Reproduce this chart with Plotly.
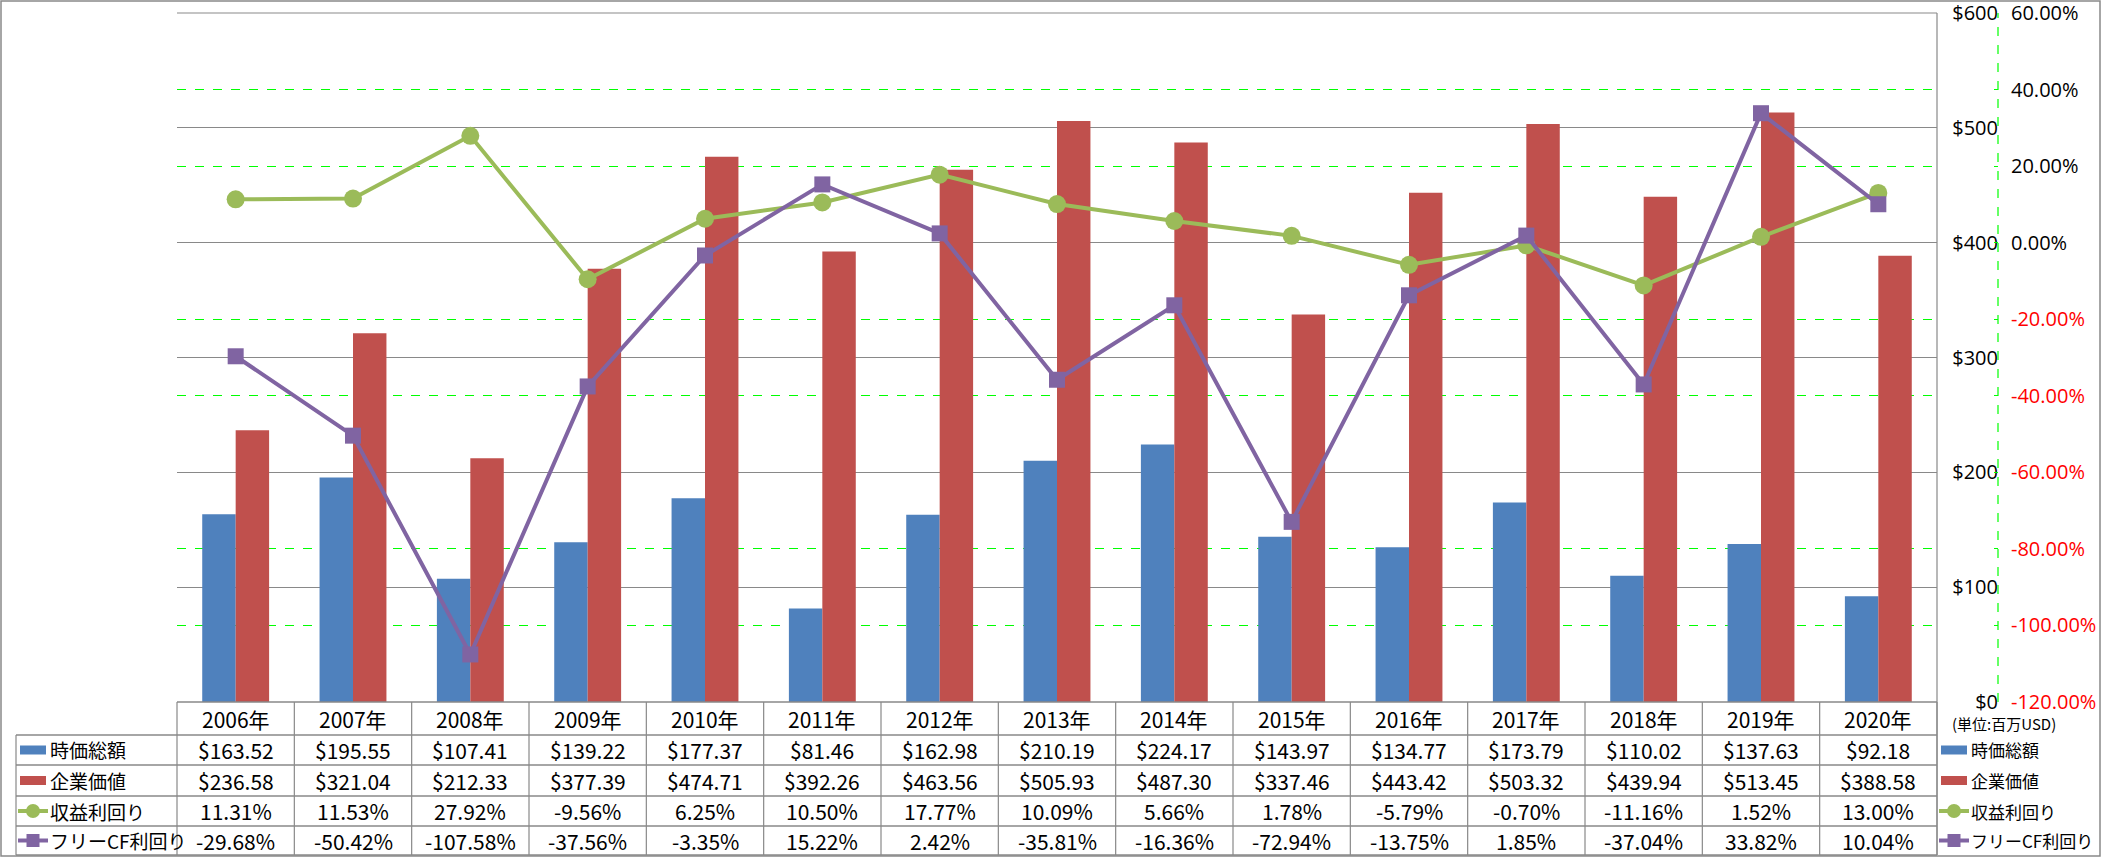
import plotly.graph_objects as go

W, H = 2101, 858
L, R, T, B = 177, 1937, 13, 702       # plot area in pixels
AX = 1998                              # x of the shared right axis line

years = ["2006年", "2007年", "2008年", "2009年", "2010年", "2011年", "2012年", "2013年",
         "2014年", "2015年", "2016年", "2017年", "2018年", "2019年", "2020年"]
market_cap = [163.52, 195.55, 107.41, 139.22, 177.37, 81.46, 162.98, 210.19,
              224.17, 143.97, 134.77, 173.79, 110.02, 137.63, 92.18]
enterprise_value = [236.58, 321.04, 212.33, 377.39, 474.71, 392.26, 463.56, 505.93,
                    487.30, 337.46, 443.42, 503.32, 439.94, 513.45, 388.58]
earnings_yield = [11.31, 11.53, 27.92, -9.56, 6.25, 10.50, 17.77, 10.09,
                  5.66, 1.78, -5.79, -0.70, -11.16, 1.52, 13.00]
fcf_yield = [-29.68, -50.42, -107.58, -37.56, -3.35, 15.22, 2.42, -35.81,
             -16.36, -72.94, -13.75, 1.85, -37.04, 33.82, 10.04]
series_names = ["時価総額", "企業価値", "収益利回り", "フリーCF利回り"]
usd_ticks = [0, 100, 200, 300, 400, 500, 600]
pct_ticks = [-120, -100, -80, -60, -40, -20, 0, 20, 40, 60]

BLUE, RED, GREEN, PURPLE = "#4F81BD", "#C0504D", "#9BBB59", "#8064A2"
GRID = "#898989"
JP = "Noto Sans CJK JP, Noto Sans, sans-serif"
NARROW = "Liberation Sans Narrow, Noto Sans CJK JP, sans-serif"
AXFONT = "Open Sans, Noto Sans, sans-serif"

PW = W - L          # paper width (right margin 0)
PH = B - T


def px(x):
    return (x - L) / PW


def py(y):
    return (B - y) / PH


fig = go.Figure()
fig.add_trace(go.Bar(name=series_names[0], x=years, y=market_cap,
                     marker=dict(color=BLUE, line=dict(width=0))))
fig.add_trace(go.Bar(name=series_names[1], x=years, y=enterprise_value,
                     marker=dict(color=RED, line=dict(width=0))))
fig.add_trace(go.Scatter(name=series_names[2], x=years, y=earnings_yield, yaxis="y2",
                         mode="lines+markers", line=dict(color=GREEN, width=4),
                         marker=dict(symbol="circle", size=18, color=GREEN)))
fig.add_trace(go.Scatter(name=series_names[3], x=years, y=fcf_yield, yaxis="y2",
                         mode="lines+markers", line=dict(color=PURPLE, width=4),
                         marker=dict(symbol="square", size=16, color=PURPLE)))


def pct_label(v):
    s = f"{v:.2f}%"
    return f"<span style='color:#FF0000'>{s}</span>" if v < 0 else s


fig.update_layout(
    width=W, height=H,
    margin=dict(l=L, r=0, t=T, b=H - B),
    paper_bgcolor="white", plot_bgcolor="white",
    showlegend=False,
    barmode="group", bargap=0.43, bargroupgap=0,
    font=dict(family=JP, size=16, color="#000000"),
    xaxis=dict(type="category", domain=[0, (R - L) / PW], range=[-0.5, len(years) - 0.5],
               showticklabels=False, showgrid=False, zeroline=False, showline=False, ticks=""),
    yaxis=dict(range=[0, 600], side="left", anchor="free", position=px(AX),
               tickvals=usd_ticks, ticktext=[f"${v}" for v in usd_ticks],
               showgrid=True, gridcolor=GRID, gridwidth=1.2, zeroline=False,
               showline=False, ticks="", ticklen=0, ticklabelstandoff=0,
               ticklabeloverflow="allow",
               tickfont=dict(family=AXFONT, size=20)),
    yaxis2=dict(range=[-120, 60], overlaying="y", side="right", anchor="free",
                position=px(AX), tickvals=pct_ticks,
                ticktext=[pct_label(v) for v in pct_ticks],
                showgrid=False, zeroline=False, showline=False,
                ticks="inside", ticklen=4, tickcolor="#00FF00", tickwidth=1,
                ticklabelstandoff=12, ticklabeloverflow="allow",
                minor=dict(tickvals=[v for v in pct_ticks if v % 60 != 0],
                           showgrid=True, gridcolor="#00FF00", griddash="dash",
                           gridwidth=1.2, ticks=""),
                tickfont=dict(family=AXFONT, size=20)),
)

shapes = []


def hline(x0, x1, y, w=1.5):
    shapes.append(dict(type="line", xref="paper", yref="paper", x0=px(x0), x1=px(x1),
                       y0=py(y), y1=py(y), line=dict(color=GRID, width=w)))


def vline(x, y0, y1, w=1.2):
    shapes.append(dict(type="line", xref="paper", yref="paper", x0=px(x), x1=px(x),
                       y0=py(y0), y1=py(y1), line=dict(color=GRID, width=w)))


# outer chart border
shapes.append(dict(type="rect", xref="paper", yref="paper", x0=px(1), x1=px(W - 1),
                   y0=py(1), y1=py(H - 2), line=dict(color=GRID, width=1.5)))
# dashed secondary axis line
shapes.append(dict(type="line", xref="paper", yref="paper", x0=px(AX), x1=px(AX),
                   y0=0, y1=1, line=dict(color="#00FF00", width=1.2, dash="dash")))
# top gridline of the value axis
hline(L, R, T, 1.2)

# data table grid
row_edges = [702, 735, 765, 796, 826, 855]
hline(L, R, row_edges[0])
for y in row_edges[1:]:
    hline(16, R, y)
vline(16, row_edges[1], row_edges[-1])
col_w = (R - L) / len(years)
for i in range(len(years) + 1):
    vline(L + i * col_w, row_edges[0], row_edges[-1])
vline(R, T, row_edges[-1])

annotations = []
centers = [(row_edges[i] + row_edges[i + 1]) / 2 for i in range(5)]
table_rows = [
    years,
    [f"${v:.2f}" for v in market_cap],
    [f"${v:.2f}" for v in enterprise_value],
    [f"{v:.2f}%" for v in earnings_yield],
    [f"{v:.2f}%" for v in fcf_yield],
]
for r, row in enumerate(table_rows):
    for i, txt in enumerate(row):
        annotations.append(dict(x=years[i], xref="x", y=py(centers[r]), yref="paper",
                                text=txt, showarrow=False, xanchor="center", yanchor="middle",
                                font=dict(family=NARROW, size=21)))


def legend_key(kind, color, x0, yc):
    if kind == "bar":
        shapes.append(dict(type="rect", xref="paper", yref="paper", x0=px(x0), x1=px(x0 + 26),
                           y0=py(yc + 4.5), y1=py(yc - 4.5), fillcolor=color,
                           line=dict(width=0)))
    else:
        shapes.append(dict(type="line", xref="paper", yref="paper", x0=px(x0 - 2), x1=px(x0 + 28),
                           y0=py(yc), y1=py(yc), line=dict(color=color, width=4)))
        s = 7 if kind == "circle" else 6.5
        shapes.append(dict(type="circle" if kind == "circle" else "rect",
                           xref="paper", yref="paper",
                           x0=px(x0 + 13 - s), x1=px(x0 + 13 + s),
                           y0=py(yc + s), y1=py(yc - s), fillcolor=color,
                           line=dict(width=0)))


kinds = [("bar", BLUE), ("bar", RED), ("circle", GREEN), ("square", PURPLE)]
for k, ((kind, color), name) in enumerate(zip(kinds, series_names)):
    yc = centers[k + 1]
    legend_key(kind, color, 20, yc)
    annotations.append(dict(x=px(48), xref="paper", y=py(yc), yref="paper", text=name,
                            showarrow=False, xanchor="left", yanchor="middle",
                            font=dict(family=JP, size=19)))
    legend_key(kind, color, 1941, yc)
    annotations.append(dict(x=px(1969), xref="paper", y=py(yc), yref="paper", text=name,
                            showarrow=False, xanchor="left", yanchor="middle",
                            font=dict(family=JP, size=17)))

annotations.append(dict(x=px(1950), xref="paper", y=py(723), yref="paper",
                        text="(単位:百万USD)", showarrow=False, xanchor="left",
                        yanchor="middle", font=dict(family=JP, size=15)))

fig.update_layout(shapes=shapes, annotations=annotations)
fig.write_html("out.html", config={"displayModeBar": False},
               post_script="document.body.style.margin='0';document.body.style.overflow='hidden';")
